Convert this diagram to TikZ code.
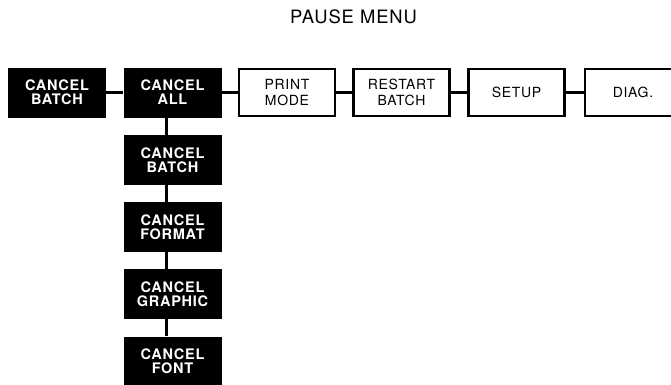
\documentclass[tikz,border=0pt]{standalone}
\usepackage{fontspec}
\setmainfont{TeX Gyre Heros}[LetterSpace=5]
\begin{document}
\begin{tikzpicture}[x=1pt,y=-1pt,
  darkbox/.style={fill=black, text=white, minimum width=98pt, minimum height=50pt,
    inner sep=0pt, align=center, font=\bfseries\fontsize{14.5}{14}\selectfont},
  lightbox/.style={draw=black, line width=2.2pt, fill=white, minimum width=96pt,
    minimum height=47pt, inner sep=0pt, align=center, font=\fontsize{14}{15.5}\selectfont},
  link/.style={line width=2.2pt}]
\useasboundingbox (0,0) rectangle (671,384);

% heading
\node[font=\fontsize{18.4}{18}\selectfont] (title) at (353.5,16.5) {PAUSE MENU};

% top row of the menu
\node[darkbox]  (cb) at (57,92.5)    {CANCEL\\BATCH};
\node[darkbox]  (ca) at (172.5,92.5) {CANCEL\\ALL};
\node[lightbox] (pm) at (287,92.5)   {PRINT\\MODE};
\node[lightbox] (rb) at (401.5,92.5) {RESTART\\BATCH};
\node[lightbox] (su) at (516.5,92.5) {SETUP};
\node[lightbox] (dg) at (633,92.5)   {DIAG.};

% cancel sub-menu
\node[darkbox] (sb) at (172.5,160)   {CANCEL\\BATCH};
\node[darkbox] (sf) at (172.5,227)   {CANCEL\\FORMAT};
\node[darkbox] (sg) at (172.5,294)   {CANCEL\\GRAPHIC};
\node[darkbox] (sn) at (172.5,361.5) {CANCEL\\FONT};

% connectors
\draw[link] (cb) -- (ca);
\draw[link] (ca) -- (pm);
\draw[link] (pm) -- (rb);
\draw[link] (rb) -- (su);
\draw[link] (su) -- (dg);
\draw[link] ([xshift=-6pt]ca.south) -- ([xshift=-6pt]sb.north);
\draw[link] ([xshift=-6pt]sb.south) -- ([xshift=-6pt]sf.north);
\draw[link] ([xshift=-6pt]sf.south) -- ([xshift=-6pt]sg.north);
\draw[link] ([xshift=-6pt]sg.south) -- ([xshift=-6pt]sn.north);
\end{tikzpicture}
\end{document}
